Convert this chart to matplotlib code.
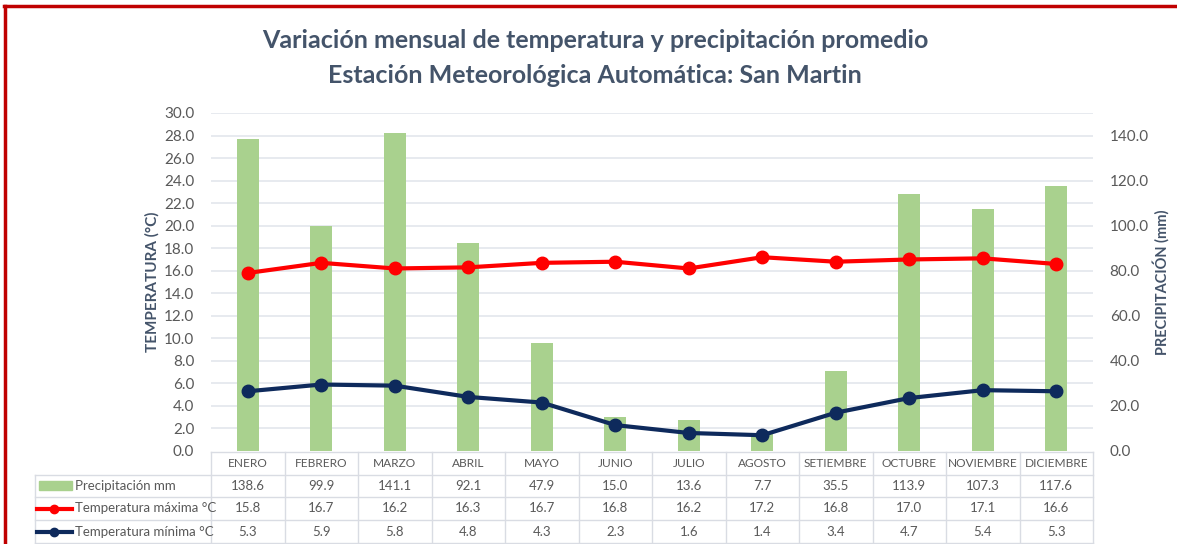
import matplotlib.pyplot as plt
from matplotlib.lines import Line2D
from matplotlib.patches import Rectangle

plt.rcParams["font.family"] = ["Lato", "DejaVu Sans"]

months = ["ENERO", "FEBRERO", "MARZO", "ABRIL", "MAYO", "JUNIO", "JULIO",
          "AGOSTO", "SETIEMBRE", "OCTUBRE", "NOVIEMBRE", "DICIEMBRE"]
precip = [138.6, 99.9, 141.1, 92.1, 47.9, 15.0, 13.6, 7.7, 35.5, 113.9, 107.3, 117.6]
tmax = [15.8, 16.7, 16.2, 16.3, 16.7, 16.8, 16.2, 17.2, 16.8, 17.0, 17.1, 16.6]
tmin = [5.3, 5.9, 5.8, 4.8, 4.3, 2.3, 1.6, 1.4, 3.4, 4.7, 5.4, 5.3]

row_labels = ["Precipitación mm", "Temperatura máxima °C", "Temperatura mínima °C"]

GREEN = "#A9D18E"
RED = "#FF0000"
NAVY = "#0E2A5C"
GRAY = "#595959"
TITLE = "#44546A"
GRID = "#E3E6EC"

W, H = 1177, 544
fig = plt.figure(figsize=(W / 100, H / 100), dpi=100)

x0, x1 = 211, 1093
ybot, ytop = 451, 113
ax = fig.add_axes([x0 / W, 1 - ybot / H, (x1 - x0) / W, (ybot - ytop) / H])
ax2 = ax.twinx()

xs = list(range(len(months)))
ax2.bar(xs, precip, width=0.3, color=GREEN, zorder=1)
ax2.set_ylim(0, 150)
ax2.set_yticks(range(0, 141, 20))
ax2.set_yticklabels([f"{v:.1f}" for v in range(0, 141, 20)])

ax.set_zorder(ax2.get_zorder() + 1)
ax.patch.set_visible(False)
ax.plot(xs, tmax, color=RED, lw=3, marker="o", ms=9, zorder=3)
ax.plot(xs, tmin, color=NAVY, lw=3, marker="o", ms=9, zorder=3)
ax.set_ylim(0, 30)
ax.set_xlim(-0.5, len(months) - 0.5)
ax.set_yticks(range(0, 31, 2))
ax.set_yticklabels([f"{v:.1f}" for v in range(0, 31, 2)])
ax.set_xticks([])

# grid drawn on the bar axes so it sits behind bars
for v in range(2, 31, 2):
    ax2.axhline(v * 5, color=GRID, lw=1.2, zorder=0)

for a in (ax, ax2):
    for s in a.spines.values():
        s.set_visible(False)
    a.tick_params(length=0, labelsize=11, colors=GRAY)
ax.tick_params(pad=12)
ax2.tick_params(pad=12)

ax.set_ylabel("TEMPERATURA (°C)", fontsize=11, fontweight="bold", color=TITLE, labelpad=3)
ax2.set_ylabel("PRECIPITACIÓN (mm)", fontsize=10.5, fontweight="bold", color=TITLE, labelpad=3)

fig.text(595 / W, 1 - 40 / H, "Variación mensual de temperatura y precipitación promedio",
         ha="center", va="center", fontsize=18, fontweight="bold", color=TITLE)
fig.text(595 / W, 1 - 75 / H, "Estación Meteorológica Automática: San Martin",
         ha="center", va="center", fontsize=18, fontweight="bold", color=TITLE)

# data table under the plot, in pixel coordinates
def fx(px):
    return px / W

def fy(py):
    return 1 - py / H

rows = [452, 475, 497, 520, 543]
col_w = (x1 - x0) / len(months)
lab_x0 = 35
tcol = "#D9DCE3"

for i, r in enumerate(rows):
    left = x0 if i == 0 else lab_x0
    fig.add_artist(Line2D([fx(left), fx(x1)], [fy(r), fy(r)], color=tcol, lw=1))
for j in range(len(months) + 1):
    xp = x0 + j * col_w
    fig.add_artist(Line2D([fx(xp), fx(xp)], [fy(rows[0]), fy(rows[-1])], color=tcol, lw=1))
fig.add_artist(Line2D([fx(lab_x0), fx(lab_x0)], [fy(rows[1]), fy(rows[-1])], color=tcol, lw=1))

for j, m in enumerate(months):
    cx = x0 + (j + 0.5) * col_w
    fig.text(fx(cx), fy((rows[0] + rows[1]) / 2), m, ha="center", va="center", fontsize=8.6, color=GRAY)
    for k, vals in enumerate((precip, tmax, tmin)):
        fig.text(fx(cx), fy((rows[k + 1] + rows[k + 2]) / 2), f"{vals[j]:.1f}",
                 ha="center", va="center", fontsize=9.5, color=GRAY)

for k, lab in enumerate(row_labels):
    cy = fy((rows[k + 1] + rows[k + 2]) / 2)
    if k == 0:
        fig.add_artist(Rectangle((fx(39), cy - 4 / H), 33 / W, 9 / H, color=GREEN))
    else:
        c = RED if k == 1 else NAVY
        fig.add_artist(Line2D([fx(37), fx(72)], [cy, cy], color=c, lw=3))
        fig.add_artist(Line2D([fx(54)], [cy], color=c, marker="o", ms=6))
    fig.text(fx(75), cy, lab, ha="left", va="center", fontsize=9.5, color=GRAY)

# red frame around the picture (top and left visible)
fig.add_artist(Line2D([fx(4), fx(W + 5)], [fy(6), fy(6)], color="#C00000", lw=2.5))
fig.add_artist(Line2D([fx(5), fx(5)], [fy(6), fy(H + 5)], color="#C00000", lw=2.5))

fig.savefig("out.png", dpi=100)
